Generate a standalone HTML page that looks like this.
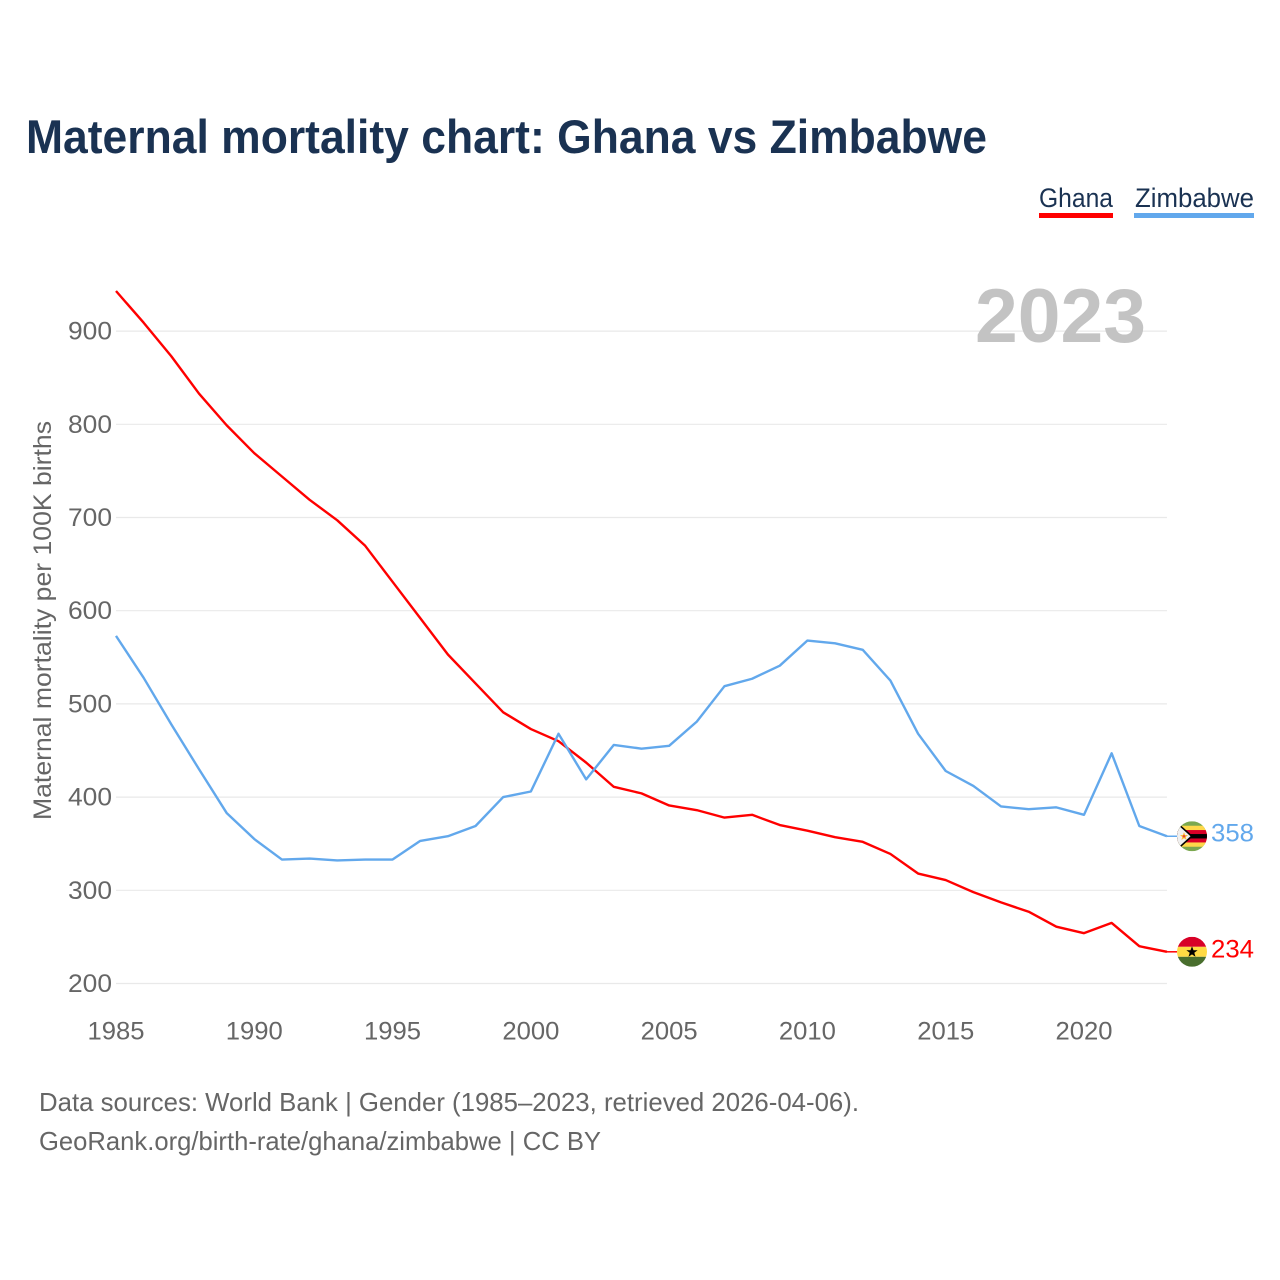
<!DOCTYPE html>
<html lang="en">
<head>
<meta charset="utf-8">
<title>Maternal mortality chart: Ghana vs Zimbabwe</title>
<style>
html,body{margin:0;padding:0;background:#fff;}
svg{display:block;}
text{font-family:"Liberation Sans",sans-serif;}
</style>
</head>
<body>
<svg id="chart" width="1280" height="1280" viewBox="0 0 1280 1280" xmlns="http://www.w3.org/2000/svg">
  <defs>
    <clipPath id="flag-clip"><circle cx="0" cy="0" r="15"></circle></clipPath>
  </defs>
  <rect x="0" y="0" width="1280" height="1280" fill="#ffffff"></rect>
  <text x="26" y="153" font-size="47" font-weight="700" fill="#1a3252" textLength="961" lengthAdjust="spacingAndGlyphs">Maternal mortality chart: Ghana vs Zimbabwe</text>

  <g>
    <g>
      <text x="1039" y="207" font-size="27" fill="#1a3252" textLength="74" lengthAdjust="spacingAndGlyphs">Ghana</text>
      <rect x="1039" y="213" width="74" height="5" fill="#ff0000"></rect>
    </g>
    <g>
      <text x="1135" y="207" font-size="27" fill="#1a3252" textLength="119" lengthAdjust="spacingAndGlyphs">Zimbabwe</text>
      <rect x="1134" y="213" width="120" height="5" fill="#62a8ec"></rect>
    </g>
  </g>

  <g id="grid"></g>
  <text x="975" y="342" font-size="76" font-weight="700" fill="#c3c3c3" textLength="171" lengthAdjust="spacingAndGlyphs">2023</text>
  <g id="y-ticks"></g>
  <g id="x-ticks"></g>
  <text transform="translate(51 620.5) rotate(-90)" text-anchor="middle" font-size="25" fill="#666666" textLength="399" lengthAdjust="spacingAndGlyphs">Maternal mortality per 100K births</text>

  <path id="line-ghana" fill="none" stroke="#ff0000" stroke-width="2.4" stroke-linejoin="round"></path>
  <path id="line-zimbabwe" fill="none" stroke="#62a8ec" stroke-width="2.4" stroke-linejoin="round"></path>
  <line id="leader-ghana" stroke="#ff0000" stroke-width="1.5"></line>
  <line id="leader-zimbabwe" stroke="#62a8ec" stroke-width="1.5"></line>

  <g id="flag-zimbabwe">
    <g clip-path="url(#flag-clip)">
      <rect x="-15" y="-15" width="30" height="30" fill="#7ba84f"></rect>
      <rect x="-15" y="-10.5" width="30" height="21" fill="#ffd84a"></rect>
      <rect x="-15" y="-6.2" width="30" height="12.4" fill="#d80027"></rect>
      <rect x="-15" y="-2.2" width="30" height="4.4" fill="#000000"></rect>
      <polygon points="-17,-16 1,0 -17,16" fill="#000000"></polygon>
      <polygon points="-17,-14 -1.5,0 -17,14" fill="#f0f0f0"></polygon>
      <polygon points="-8,-4 -6.8,-1.2 -4,-1.2 -6.2,0.8 -5.4,3.8 -8,2 -10.6,3.8 -9.8,0.8 -12,-1.2 -9.2,-1.2" fill="#ffc03a"></polygon>
      <circle cx="-8" cy="0" r="1.3" fill="#e2453a"></circle>
    </g>
  </g>
  <g id="flag-ghana">
    <g clip-path="url(#flag-clip)">
      <rect x="-15" y="-15" width="30" height="10" fill="#d80027"></rect>
      <rect x="-15" y="-5" width="30" height="10" fill="#ffda44"></rect>
      <rect x="-15" y="5" width="30" height="10" fill="#496e2d"></rect>
      <polygon points="0,-5.5 1.5,-1.6 5.6,-1.6 2.3,1 3.5,5 0,2.6 -3.5,5 -2.3,1 -5.6,-1.6 -1.5,-1.6" fill="#000000"></polygon>
    </g>
  </g>
  <text id="value-zimbabwe" x="1211" font-size="25" fill="#62a8ec" textLength="43" lengthAdjust="spacingAndGlyphs"></text>
  <text id="value-ghana" x="1211" font-size="25" fill="#ff0000" textLength="43" lengthAdjust="spacingAndGlyphs"></text>

  <text x="39" y="1111" font-size="26" fill="#666666" textLength="820" lengthAdjust="spacingAndGlyphs">Data sources: World Bank | Gender (1985–2023, retrieved 2026-04-06).</text>
  <text x="39" y="1150" font-size="26" fill="#666666" textLength="562" lengthAdjust="spacingAndGlyphs">GeoRank.org/birth-rate/ghana/zimbabwe | CC BY</text>
</svg>
<script>
const years = [1985,1986,1987,1988,1989,1990,1991,1992,1993,1994,1995,1996,1997,1998,1999,2000,2001,2002,2003,2004,2005,2006,2007,2008,2009,2010,2011,2012,2013,2014,2015,2016,2017,2018,2019,2020,2021,2022,2023];
const ghana = [943,909,873,833,799,769,744,719,697,670,631,592,553,522,491,473,460,437,411,404,391,386,378,381,370,364,357,352,339,318,311,298,287,277,261,254,265,240,234];
const zimbabwe = [573,528,478,430,383,355,333,334,332,333,333,353,358,369,400,406,468,419,456,452,455,481,519,527,541,568,565,558,525,468,428,412,390,387,389,381,447,369,358];
const yTicks = [200,300,400,500,600,700,800,900];
const xTicks = [1985,1990,1995,2000,2005,2010,2015,2020];

const NS = 'http://www.w3.org/2000/svg';
function xPos(year) { return 116 + (year - 1985) * (968 / 35); }
function yPos(value) { return 983.5 - (value - 200) * 0.932; }
function linePath(series) {
  return series.map(function (v, i) {
    return (i ? 'L' : 'M') + xPos(years[i]).toFixed(2) + ' ' + yPos(v).toFixed(2);
  }).join(' ');
}

const gridGroup = document.getElementById('grid');
const yTickGroup = document.getElementById('y-ticks');
const xTickGroup = document.getElementById('x-ticks');

yTicks.forEach(function (t) {
  const ln = document.createElementNS(NS, 'line');
  
  
  ln.setAttribute('x1', 116);
  ln.setAttribute('x2', xPos(2023));
  ln.setAttribute('y1', yPos(t));
  ln.setAttribute('y2', yPos(t));
  ln.setAttribute('stroke', '#e9e9e9');
  ln.setAttribute('stroke-width', '1.2');
  gridGroup.appendChild(ln);

  const lb = document.createElementNS(NS, 'text');
  
  
  lb.setAttribute('x', 68);
  lb.setAttribute('y', yPos(t) + 8.5);
  lb.setAttribute('font-size', '25');
  lb.setAttribute('fill', '#666666');
  lb.setAttribute('textLength', '44');
  lb.setAttribute('lengthAdjust', 'spacingAndGlyphs');
  lb.textContent = String(t);
  yTickGroup.appendChild(lb);
});

xTicks.forEach(function (t) {
  const lb = document.createElementNS(NS, 'text');
  
  
  lb.setAttribute('x', xPos(t) - 28.5);
  lb.setAttribute('y', 1039.5);
  lb.setAttribute('font-size', '25');
  lb.setAttribute('fill', '#666666');
  lb.setAttribute('textLength', '57');
  lb.setAttribute('lengthAdjust', 'spacingAndGlyphs');
  lb.textContent = String(t);
  xTickGroup.appendChild(lb);
});

document.getElementById('line-ghana').setAttribute('d', linePath(ghana));
document.getElementById('line-zimbabwe').setAttribute('d', linePath(zimbabwe));

function placeEnd(key, series) {
  const last = series[series.length - 1];
  const lastY = yPos(last);
  const lastX = xPos(years[years.length - 1]);
  document.getElementById('flag-' + key).setAttribute('transform', 'translate(1192 ' + lastY + ')');
  const leader = document.getElementById('leader-' + key);
  leader.setAttribute('x1', lastX);
  leader.setAttribute('x2', 1177);
  leader.setAttribute('y1', lastY);
  leader.setAttribute('y2', lastY);
  const val = document.getElementById('value-' + key);
  val.setAttribute('y', lastY + 5.5);
  val.textContent = String(last);
}
placeEnd('ghana', ghana);
placeEnd('zimbabwe', zimbabwe);
</script>
</body>
</html>
